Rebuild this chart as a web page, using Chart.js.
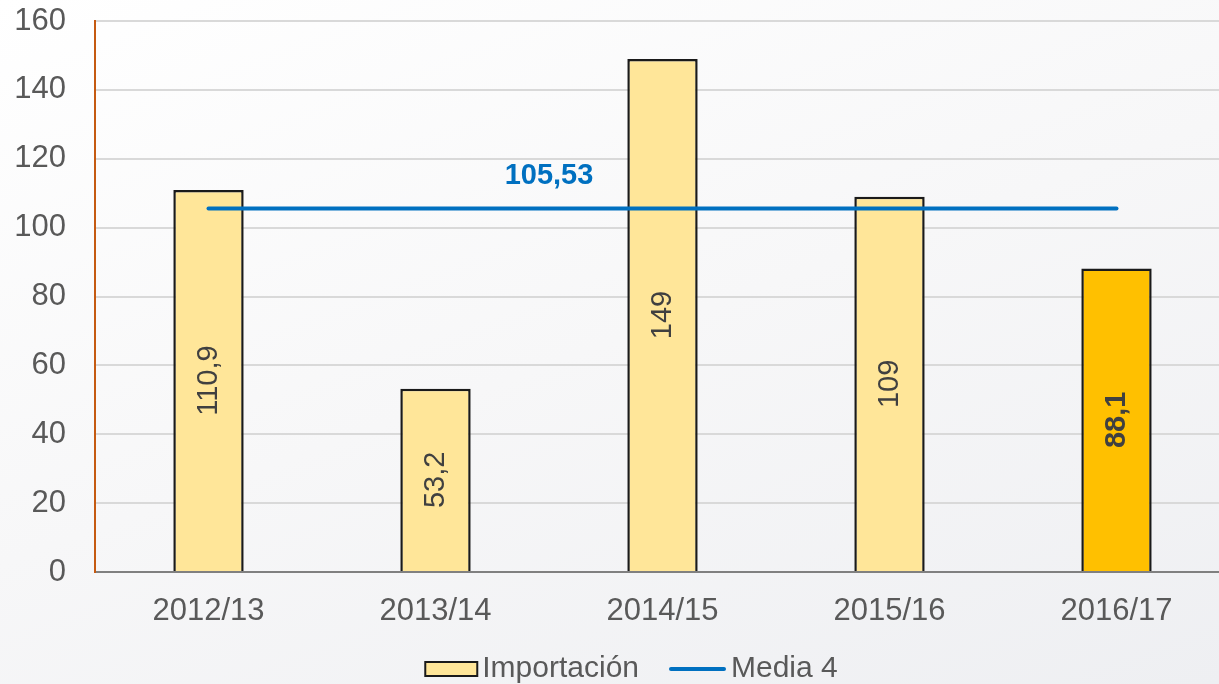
<!DOCTYPE html>
<html>
<head>
<meta charset="utf-8">
<script src="https://cdn.jsdelivr.net/npm/chart.js@4/dist/chart.umd.min.js"></script>
<style>
html,body{margin:0;padding:0;overflow:hidden;width:1219px;height:684px;}
body{background:linear-gradient(160deg,#ffffff 0%,#f7f7f8 50%,#eeeff2 100%);}
#wrap{position:relative;width:1263px;height:684px;}
</style>
</head>
<body>
<div id="wrap"><canvas id="c"></canvas></div>
<script>
const categories = ['2012/13','2013/14','2014/15','2015/16','2016/17'];
const importacion = [110.9, 53.2, 149, 109, 88.1];
const media4 = [105.53, 105.53, 105.53, 105.53, 105.53];
const mediaLabel = '105,53';
const yTicks = [0, 20, 40, 60, 80, 100, 120, 140, 160];
const legendNames = ['Importación', 'Media 4'];

const barColors = ['#ffe699','#ffe699','#ffe699','#ffe699','#ffc000'];
const FONT = '"Liberation Sans", Arial, sans-serif';
const fmt = v => String(v).replace('.', ',');

const labelPlugin = {
  id: 'labels',
  afterDatasetsDraw(chart) {
    const ctx = chart.ctx;
    const meta = chart.getDatasetMeta(0);
    const y = chart.scales.y;
    ctx.save();
    meta.data.forEach((bar, i) => {
      const cy = (bar.y + bar.base) / 2;
      ctx.save();
      ctx.translate(bar.x, cy);
      ctx.rotate(-Math.PI / 2);
      ctx.fillStyle = '#404040';
      ctx.font = (i === 4 ? 'bold ' : '') + '29px ' + FONT;
      ctx.textAlign = 'center';
      ctx.textBaseline = 'middle';
      ctx.fillText(fmt(importacion[i]), 0, 0);
      ctx.restore();
    });
    const lm = chart.getDatasetMeta(1);
    const lx = (lm.data[1].x + lm.data[2].x) / 2;
    const ly = y.getPixelForValue(media4[1]) - 33;
    ctx.fillStyle = '#0070c0';
    ctx.font = 'bold 29px ' + FONT;
    ctx.textAlign = 'center';
    ctx.textBaseline = 'middle';
    ctx.fillText(mediaLabel, lx, ly);
    ctx.restore();
  },
  afterDraw(chart) {
    const ctx = chart.ctx;
    ctx.save();
    ctx.font = '30px ' + FONT;
    const w1 = ctx.measureText(legendNames[0]).width;
    const w2 = ctx.measureText(legendNames[1]).width;
    const boxW = 52, lineW = 57, gapT = 5, gapI = 30;
    const total = boxW + gapT + w1 + gapI + lineW + gapT + w2;
    let x = chart.width / 2 - total / 2;
    const cy = 669;
    ctx.fillStyle = '#ffe699';
    ctx.strokeStyle = '#1a1a1a';
    ctx.lineWidth = 2;
    ctx.fillRect(x, cy - 7, boxW, 14);
    ctx.strokeRect(x, cy - 7, boxW, 14);
    x += boxW + gapT;
    ctx.fillStyle = '#595959';
    ctx.textBaseline = 'middle';
    ctx.textAlign = 'left';
    ctx.fillText(legendNames[0], x, cy);
    x += w1 + gapI;
    ctx.strokeStyle = '#0070c0';
    ctx.lineWidth = 4;
    ctx.lineCap = 'round';
    ctx.beginPath();
    ctx.moveTo(x + 2, cy);
    ctx.lineTo(x + lineW - 2, cy);
    ctx.stroke();
    x += lineW + gapT;
    ctx.fillText(legendNames[1], x, cy);
    ctx.restore();
  }
};

new Chart(document.getElementById('c'), {
  data: {
    labels: categories,
    datasets: [
      {
        type: 'bar',
        label: legendNames[0],
        data: importacion,
        backgroundColor: barColors,
        borderColor: '#1a1a1a',
        borderWidth: 2.5,
        borderSkipped: 'bottom',
        categoryPercentage: 1,
        barPercentage: 0.31,
        order: 2
      },
      {
        type: 'line',
        label: legendNames[1],
        data: media4,
        borderColor: '#0070c0',
        backgroundColor: '#0070c0',
        borderWidth: 4,
        borderCapStyle: 'round',
        pointRadius: 0,
        pointHoverRadius: 0,
        order: 1
      }
    ]
  },
  options: {
    responsive: true,
    maintainAspectRatio: false,
    animation: false,
    events: [],
    layout: { padding: { left: 0, right: 33, top: 21, bottom: 0 } },
    plugins: {
      tooltip: { enabled: false },
      legend: { display: false }
    },
    scales: {
      x: {
        afterFit(scale) { scale.height = 112; },
        grid: { display: false, drawTicks: false },
        border: { display: true, color: '#808080', width: 2 },
        ticks: {
          color: '#595959',
          padding: 21,
          font: { family: FONT, size: 31 }
        }
      },
      y: {
        min: 0,
        max: 160,
        afterFit(scale) { scale.width = 95; scale.paddingTop = 0; scale.paddingBottom = 0; },
        afterBuildTicks(scale) { scale.ticks = yTicks.map(v => ({ value: v })); },
        grid: { color: '#d9d9d9', lineWidth: 2, drawTicks: false },
        border: { display: true, color: '#c55a11', width: 2 },
        ticks: {
          color: '#595959',
          padding: 29,
          font: { family: FONT, size: 31 }
        }
      }
    }
  },
  plugins: [labelPlugin]
});
</script>
</body>
</html>
